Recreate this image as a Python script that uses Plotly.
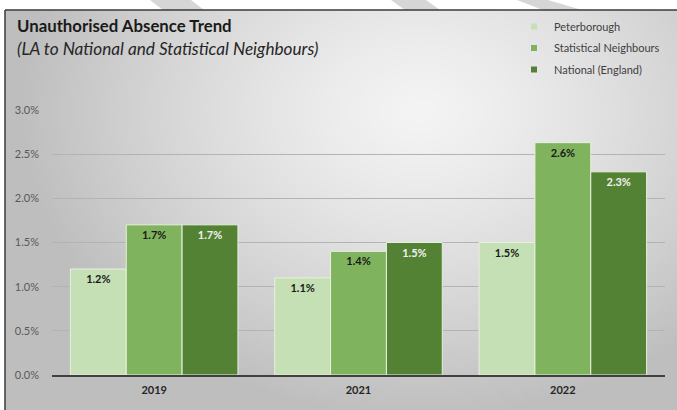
import base64, struct, zlib
import numpy as np
import plotly.graph_objects as go

years = ["2019", "2021", "2022"]
peterborough = [1.2, 1.1, 1.5]
stat_neighbours = [1.7, 1.4, 2.63]
national = [1.7, 1.5, 2.3]
series_names = ["Peterborough", "Statistical Neighbours", "National (England)"]
y_ticks = [0.0, 0.5, 1.0, 1.5, 2.0, 2.5, 3.0]

W, H = 677, 410
L, R, T, B = 52, 12, 110, 35
PW, PH = W - L - R, H - T - B


def px(x):
    return (x - L) / PW


def py(y):
    return (H - B - y) / PH


def png_uri(arr):
    h, w = arr.shape
    raw = b"".join(b"\x00" + arr[i].tobytes() for i in range(h))

    def chunk(tag, data):
        c = struct.pack(">I", len(data)) + tag + data
        return c + struct.pack(">I", zlib.crc32(tag + data) & 0xFFFFFFFF)

    png = b"\x89PNG\r\n\x1a\n" + chunk(b"IHDR", struct.pack(">IIBBBBB", w, h, 8, 0, 0, 0, 0))
    png += chunk(b"IDAT", zlib.compress(raw, 9)) + chunk(b"IEND", b"")
    return "data:image/png;base64," + base64.b64encode(png).decode()


# radial grey gradient for the chart area background
gw, gh = 168, 100
xs = np.linspace(5, W, gw)
ys = np.linspace(10, H, gh)
X, Y = np.meshgrid(xs, ys)
d = np.sqrt(((X - 420) / 430) ** 2 + ((Y - 110) / 330) ** 2)
g = np.clip(244 - 58 * d ** 1.3, 190, 246).astype(np.uint8)
bg_uri = png_uri(g)

colors = ["#c5e0b4", "#80b35d", "#548235"]
text_colors = ["#1a1a1a", "#1a1a1a", "#f2f2f2"]

fig = go.Figure()
for i, (name, vals, c, tc) in enumerate(zip(series_names, [peterborough, stat_neighbours, national], colors, text_colors)):
    fig.add_trace(go.Bar(
        x=years, y=vals, name=name, legendgroup=f"g{i}", showlegend=False,
        marker=dict(color=c, line=dict(color="#e8f0e0", width=1)),
        text=[f"{v:.1f}%" for v in vals], texttemplate="%{text}",
        textposition="inside", insidetextanchor="end", textangle=0,
        constraintext="none",
        textfont=dict(family="Lato", size=11, color=tc, weight="bold"),
    ))
for i, (name, c) in enumerate(zip(series_names, colors)):
    fig.add_trace(go.Scatter(
        x=[None], y=[None], mode="markers", name=name, legendgroup=f"g{i}",
        marker=dict(symbol="square", size=6, color=c), showlegend=True,
    ))

shapes = []
# white strip above the frame and watermark stripes
shapes.append(dict(type="rect", xref="paper", yref="paper", x0=px(0), x1=px(W), y0=py(10), y1=py(0),
                   fillcolor="white", line=dict(width=0), layer="below"))
for (a, b_, c_, d_) in [(150, 191, 204, 163), (391, 426, 440, 405), (517, 548, 582, 543)]:
    path = f"M {px(a)},{py(0)} L {px(b_)},{py(0)} L {px(c_)},{py(10)} L {px(d_)},{py(10)} Z"
    shapes.append(dict(type="path", xref="paper", yref="paper", path=path,
                       fillcolor="#d6d6d6", line=dict(width=0), layer="below"))
# frame
shapes.append(dict(type="line", xref="paper", yref="paper", x0=px(5), x1=px(W), y0=py(10), y1=py(10),
                   line=dict(color="#3a3a3a", width=1.5)))
shapes.append(dict(type="line", xref="paper", yref="paper", x0=px(5), x1=px(5), y0=py(10), y1=py(H),
                   line=dict(color="#3a3a3a", width=1.5)))

fig.update_layout(
    width=W, height=H,
    margin=dict(l=L, r=R, t=T, b=B, autoexpand=False),
    paper_bgcolor="white",
    plot_bgcolor="rgba(0,0,0,0)",
    font=dict(family="Lato", color="#595959"),
    barmode="group", bargap=0.18, bargroupgap=0.0,
    images=[dict(source=bg_uri, xref="paper", yref="paper", x=px(5), y=py(10),
                 sizex=(W - 5) / PW, sizey=(H - 10) / PH, xanchor="left", yanchor="top",
                 sizing="stretch", layer="below")],
    shapes=shapes,
    annotations=[
        dict(text="<b>Unauthorised Absence Trend</b>", xref="paper", yref="paper",
             x=px(15), y=py(25), xanchor="left", yanchor="middle", showarrow=False,
             font=dict(family="Lato", size=16.8, color="#1a1a1a")),
        dict(text="<i>(LA to National and Statistical Neighbours)</i>", xref="paper", yref="paper",
             x=px(15), y=py(48), xanchor="left", yanchor="middle", showarrow=False,
             font=dict(family="Lato", size=17.2, color="#262626")),
    ],
    legend=dict(x=px(514), y=py(12), xanchor="left", yanchor="top", bgcolor="rgba(0,0,0,0)",
                font=dict(family="Lato", size=11, color="#404040"), itemwidth=30,
                tracegroupgap=2.5, traceorder="grouped"),
    xaxis=dict(showgrid=False, showline=True, linecolor="#404040", linewidth=2,
               tickfont=dict(family="Lato", size=11, color="#262626", weight="bold"),
               ticks="", ticklabelstandoff=4),
    yaxis=dict(range=[0, 3.0], tickvals=y_ticks, ticktext=[f"{v:.1f}%" for v in y_ticks],
               showgrid=True, gridcolor="#b3b3b3", gridwidth=1, zeroline=False,
               tickfont=dict(family="Lato", size=11, color="#595959"), ticklabelstandoff=12,
               showline=False),
)

fig.write_html("out.html")
